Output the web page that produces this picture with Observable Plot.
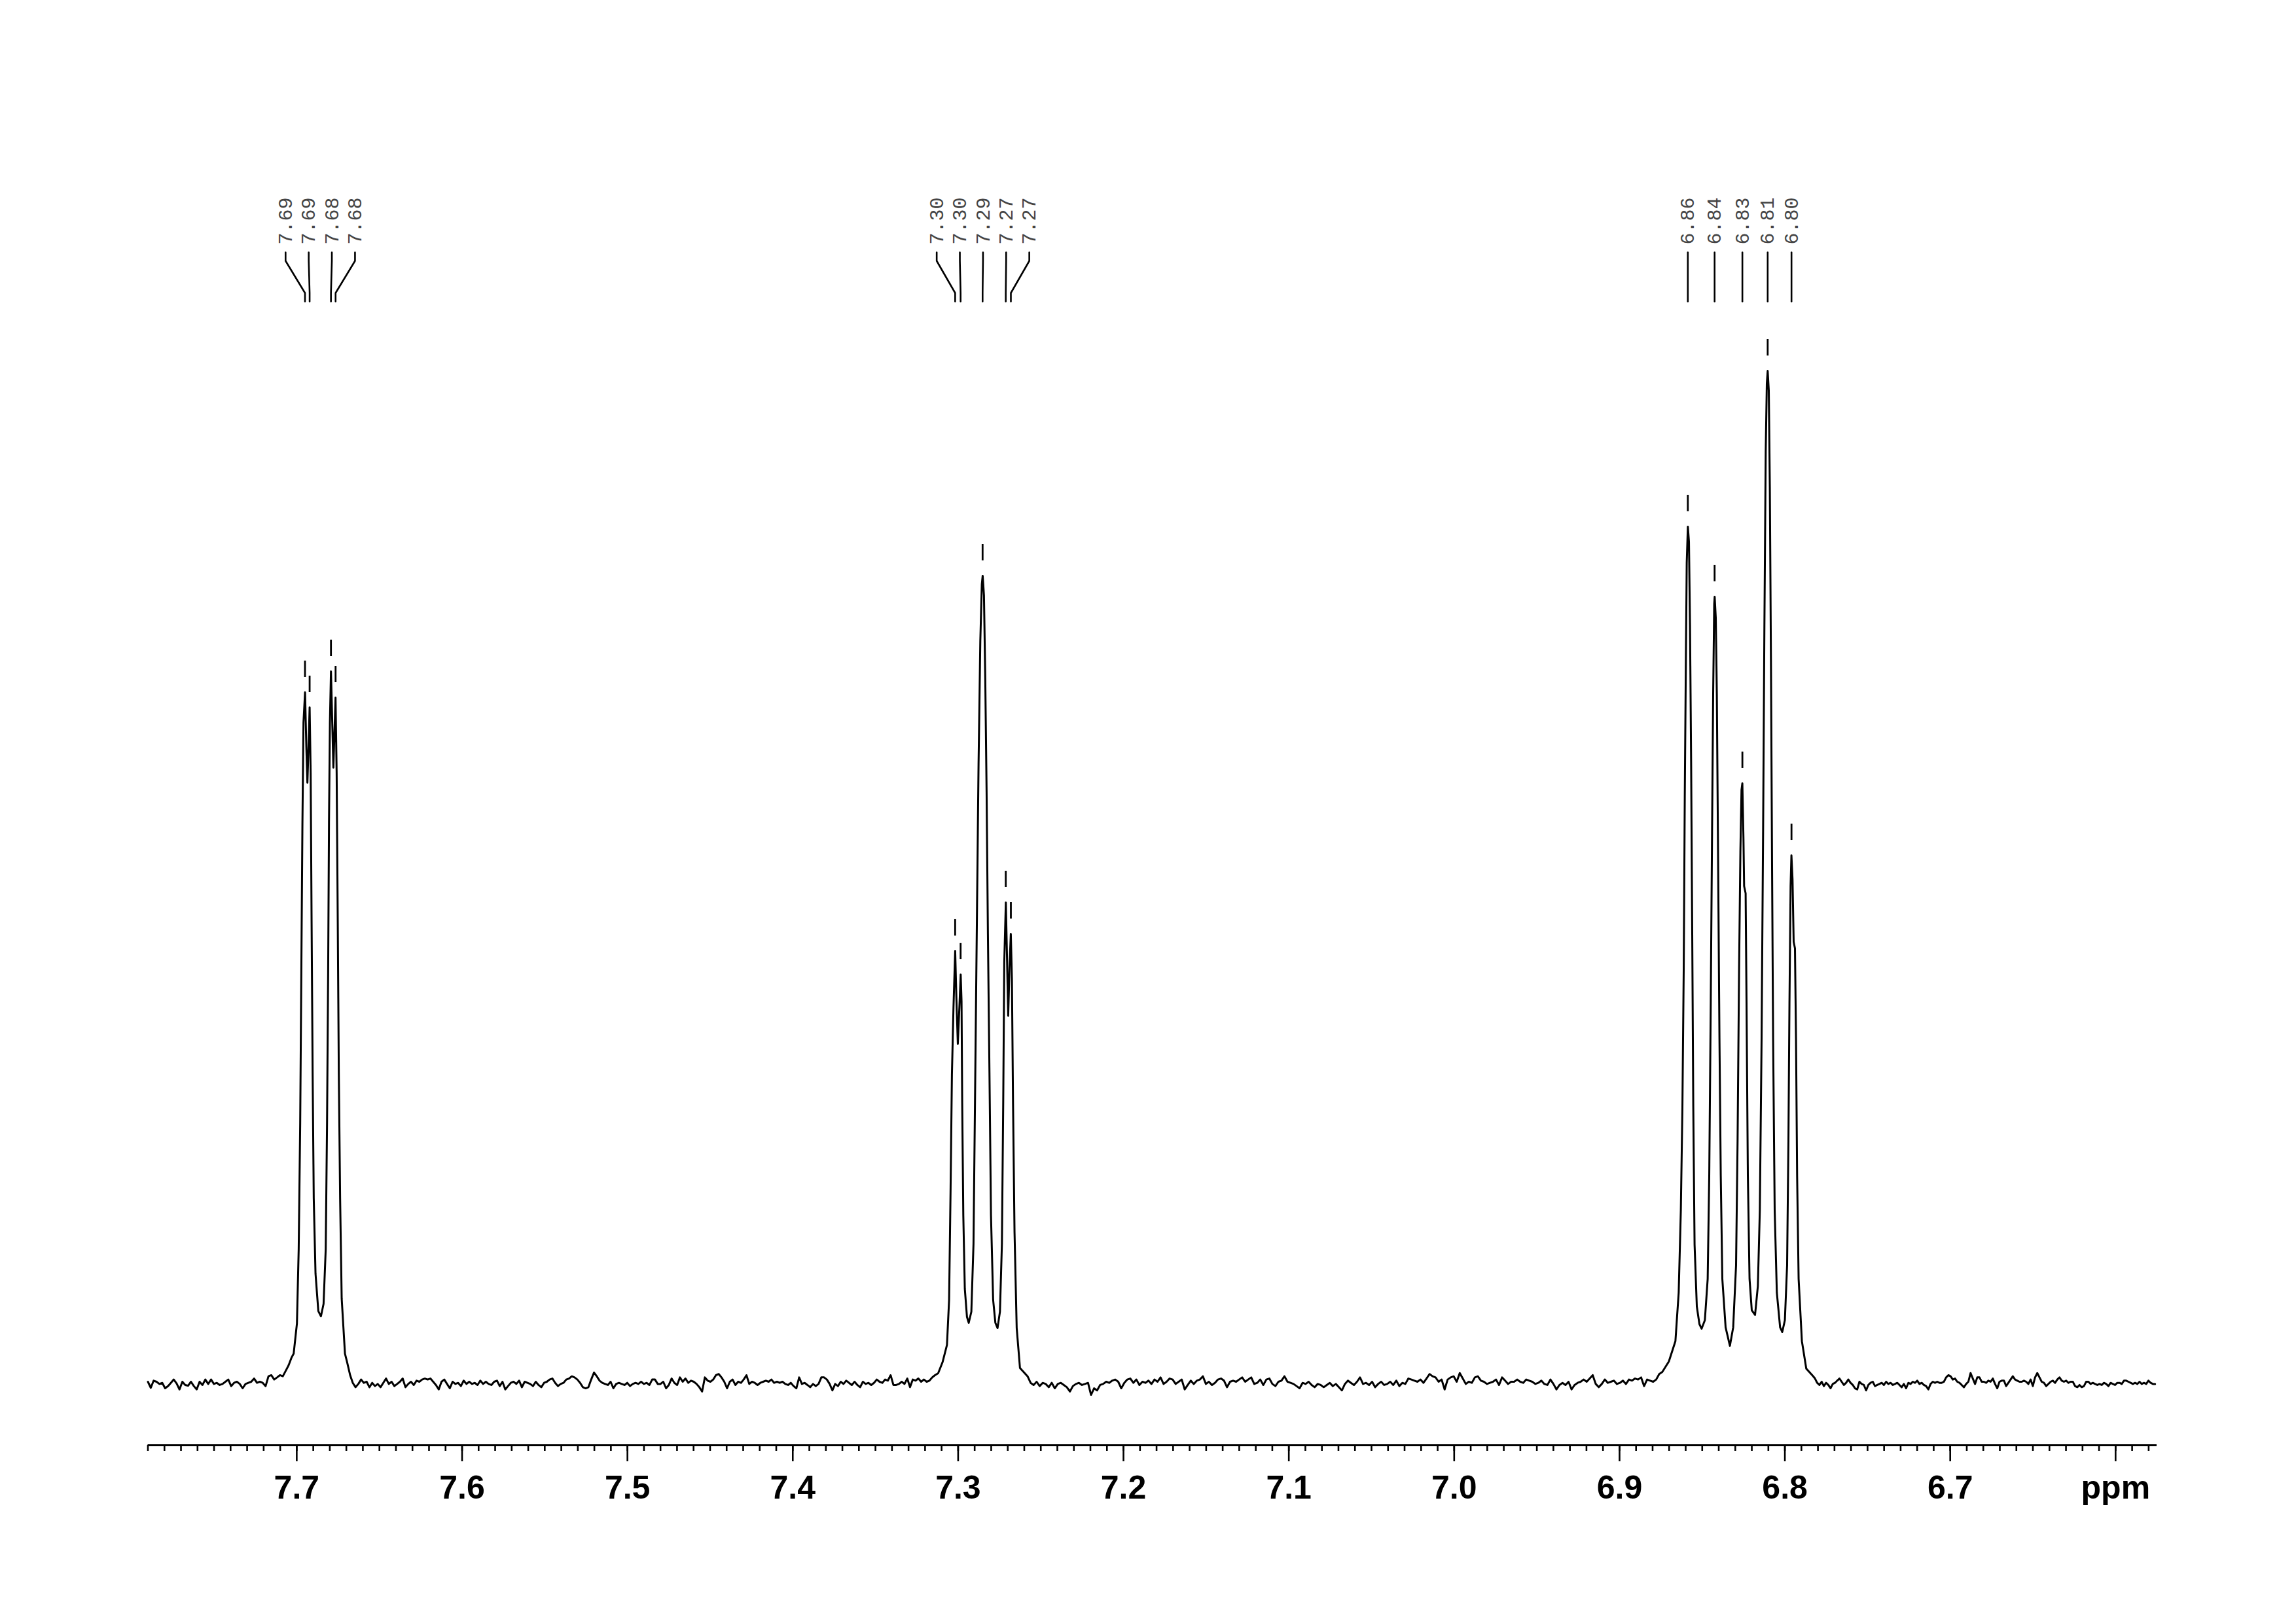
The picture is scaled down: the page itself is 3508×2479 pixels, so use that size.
<!DOCTYPE html>
<html>
<head>
<meta charset="utf-8">
<script src="https://cdn.jsdelivr.net/npm/d3@7"></script>
<script src="https://cdn.jsdelivr.net/npm/@observablehq/plot@0.6"></script>
<style>
  html, body { margin: 0; padding: 0; background: #fff; }
  #chart svg { display: block; }
</style>
</head>
<body>
<div id="chart"></div>
<script>
// ---------------- DATA (chemical shift in ppm, relative intensity) ----------------
const noiseA = { from: 7.7900, to: 7.7032, values: [0,-0.60,0.11,0,-0.22,-0.11,-0.65,-0.43,-0.11,0.22,-0.17,-0.76,0,-0.32,-0.39,0,-0.43,-0.76,0,-0.32,0.22,-0.22,0.22,-0.22,-0.11,-0.32,-0.22,0,0.22,-0.43,-0.11,0,-0.22,-0.65,-0.22,-0.11,0,0.32,-0.11,0,-0.11,-0.43,0.54,0.65,0.22,0.43,0.65,0.54,1.08,1.62,2.37] };
const noiseB = { from: 7.6661, to: 7.3140, values: [-0.11,-0.54,-0.22,0.22,-0.11,0,-0.54,-0.11,-0.43,-0.22,-0.54,-0.11,0.32,-0.22,0,-0.43,-0.22,0,0.32,-0.54,-0.22,0,-0.32,0.11,0,0.22,0.32,0.22,0.32,0,-0.32,-0.76,0,0.22,-0.22,-0.65,0,-0.22,-0.11,-0.43,0.11,-0.22,0,-0.22,-0.11,-0.32,0.11,-0.22,0,-0.22,-0.32,0,0.11,-0.43,0,-0.76,-0.43,-0.11,0,-0.22,0.11,-0.54,0,-0.11,-0.22,-0.43,0,-0.32,-0.54,-0.11,0,0.22,0.32,-0.11,-0.43,-0.22,-0.11,0.22,0.32,0.54,0.43,0.22,-0.11,-0.54,-0.65,-0.54,0.22,0.91,0.54,0.11,-0.11,-0.22,-0.32,0,-0.65,-0.22,-0.11,-0.22,-0.32,-0.11,-0.43,-0.22,-0.11,-0.22,0,-0.22,-0.11,-0.32,0.22,0.22,-0.22,-0.22,0,-0.65,-0.32,0.32,-0.11,-0.32,0.43,0,0.32,-0.11,0.11,0,-0.22,-0.54,-0.97,0.43,0.11,0,0.22,0.65,0.76,0.43,0,-0.65,0,0.22,-0.32,0,-0.11,0.22,0.65,-0.22,0,-0.11,-0.32,-0.11,0,0.11,0,0.22,-0.11,0,-0.11,0,-0.22,-0.32,-0.11,-0.43,-0.65,0.43,-0.22,-0.11,-0.32,-0.54,-0.22,-0.43,-0.22,0.43,0.43,0.22,-0.22,-0.86,-0.22,-0.43,0,-0.22,0.11,-0.11,-0.32,0,-0.32,-0.54,0,-0.22,-0.11,-0.32,-0.11,0.22,0,-0.11,0.22,0.11,0.65,-0.32,-0.32,-0.22,0,-0.22,0.32,-0.54,0.22,0.11,0.32,0,0.22,0,0.11,0.43,0.65] };
const noiseC = { from: 7.2580, to: 6.8760, values: [0.54,-0.11,-0.32,0,-0.43,-0.11,-0.22,-0.54,-0.11,-0.65,-0.22,-0.11,-0.32,-0.54,-0.97,-0.43,-0.22,-0.11,-0.32,-0.22,-0.11,-1.30,-0.65,-0.86,-0.32,-0.22,0,-0.11,0.11,0.22,0,-0.65,-0.11,0.22,0.32,-0.11,0.22,-0.32,0,-0.11,0.11,-0.22,0.22,0,0.43,-0.22,0,0.32,0.22,-0.22,0,0.22,-0.76,-0.32,0.11,-0.22,0.11,0.22,0.54,-0.22,0,-0.32,-0.11,0.22,0.32,0.11,-0.54,0,0.11,0,0.22,0.43,0,0.22,0.43,-0.22,-0.11,0.22,-0.32,0.22,0.32,-0.22,-0.43,0,0.11,0.54,0,-0.11,-0.22,-0.43,-0.65,-0.11,-0.22,0,-0.32,-0.54,-0.22,-0.32,-0.54,-0.32,-0.11,-0.43,-0.22,-0.54,-0.86,-0.22,0.11,-0.11,-0.32,0,0.43,-0.22,-0.11,-0.32,0,-0.54,-0.22,0,-0.32,-0.22,0,-0.32,0.11,-0.43,-0.11,-0.22,0.32,0.22,0.11,0,0.22,-0.11,0.32,0.76,0.54,0.43,0,0.22,-0.76,0.22,0.43,0.54,0,0.86,0.32,-0.22,0,-0.11,0.43,0.54,0.11,0,-0.22,-0.11,0,0.22,-0.32,0.43,0.11,-0.22,0,0,0.22,0,-0.11,0.22,0.11,0,-0.22,-0.11,0.11,-0.22,-0.32,0.22,-0.22,-0.76,-0.32,-0.11,-0.32,0,-0.76,-0.32,-0.11,0,0.22,0,0.32,0.65,-0.22,-0.54,-0.22,0.22,-0.11,0,0.11,-0.22,-0.11,0.11,-0.22,0.22,0.11,0.32,0.22,0.43,-0.43,0.22,0.11,0,0.22,0.76] };
const noiseD = { from: 6.7818, to: 6.5761, values: [0.32,-0.11,-0.32,0,-0.43,-0.11,-0.32,-0.65,-0.22,-0.11,0.11,0.32,0,-0.32,-0.11,0.22,-0.11,-0.32,-0.65,-0.76,0,-0.22,-0.32,-0.86,-0.32,-0.11,0,-0.43,-0.32,-0.22,-0.11,-0.32,0,-0.22,-0.11,-0.32,-0.22,-0.11,-0.32,-0.54,-0.22,-0.65,-0.11,-0.22,0,-0.11,0.11,-0.22,-0.11,-0.32,-0.43,-0.76,-0.22,0,-0.11,0,-0.11,-0.11,0,0.43,0.65,0.54,0.22,0.32,0,-0.11,-0.32,-0.54,-0.22,0,0.86,0.32,-0.22,0.43,0.43,0,0,-0.11,0.11,0,0.32,-0.22,-0.65,0,0.11,0.11,-0.43,-0.11,0.22,0.54,0.22,0.11,0,0,0.11,0,-0.22,0.22,-0.43,0.43,0.86,0.43,0,-0.11,-0.43,-0.22,0,0.11,-0.11,0.22,0.43,0.11,0,0.11,-0.11,0,0,-0.43,-0.54,-0.32,-0.54,-0.43,0,0,-0.22,-0.11,-0.22,-0.32,-0.22,-0.32,-0.11,-0.22,-0.43,-0.11,-0.22,-0.32,-0.11,-0.11,-0.22,0.11,0.11,0,-0.11,-0.22,-0.11,-0.22,0,-0.22,-0.11,-0.22,0.11,-0.11,-0.22,-0.22] };

// Multiplet traces [shift ppm, intensity]
const multiplet769 = [[7.70185,2.78],[7.69988,5.76],[7.69881,13.15],[7.69790,25.58],[7.69723,40.41],[7.69655,55.31],[7.69592,65.22],[7.69497,68.20],[7.69418,62.76],[7.69355,59.26],[7.69287,62.76],[7.69220,66.71],[7.69157,60.23],[7.69101,45.40],[7.69038,30.51],[7.68971,18.13],[7.68864,10.69],[7.68694,6.99],[7.68535,6.48],[7.68377,7.71],[7.68246,13.15],[7.68167,25.58],[7.68100,40.41],[7.68049,55.31],[7.67993,65.22],[7.67930,70.27],[7.67851,65.22],[7.67784,60.75],[7.67716,64.25],[7.67653,67.68],[7.67586,60.23],[7.67518,45.40],[7.67455,30.51],[7.67376,18.13],[7.67281,8.23],[7.67083,2.78],[7.66953,1.94],[7.66770,0.65]];
const multiplet729 = [[7.31207,0.84],[7.30941,1.94],[7.30676,3.63],[7.30546,8.10],[7.30455,19.24],[7.30376,30.38],[7.30281,37.05],[7.30178,42.62],[7.30110,38.21],[7.30019,33.42],[7.29924,37.05],[7.29845,40.28],[7.29794,37.63],[7.29754,27.59],[7.29687,16.45],[7.29596,9.20],[7.29465,6.41],[7.29358,5.83],[7.29200,6.93],[7.29070,13.67],[7.28963,30.38],[7.28856,47.09],[7.28765,61.08],[7.28658,73.32],[7.28567,78.89],[7.28516,79.73],[7.28437,77.78],[7.28358,69.43],[7.28278,58.29],[7.28199,44.30],[7.28104,30.38],[7.28013,16.45],[7.27883,8.10],[7.27748,5.83],[7.27617,5.31],[7.27471,6.93],[7.27352,13.67],[7.27273,27.59],[7.27210,41.52],[7.27115,47.41],[7.27052,42.62],[7.26972,36.21],[7.26893,41.00],[7.26814,44.30],[7.26747,39.83],[7.26680,27.59],[7.26589,14.77],[7.26458,5.31],[7.26260,1.36]];
const multiplet683 = [[6.87412,0.97],[6.87016,2.01],[6.86620,4.02],[6.86422,8.81],[6.86292,16.97],[6.86197,27.20],[6.86118,40.80],[6.86054,57.84],[6.85987,71.50],[6.85936,81.02],[6.85868,84.59],[6.85801,83.10],[6.85738,74.94],[6.85670,61.27],[6.85603,44.24],[6.85540,27.20],[6.85461,13.54],[6.85326,7.45],[6.85168,5.70],[6.85037,5.25],[6.84839,6.09],[6.84669,10.17],[6.84574,20.40],[6.84483,37.44],[6.84404,54.47],[6.84337,68.07],[6.84274,76.94],[6.84246,77.66],[6.84179,75.58],[6.84115,68.07],[6.84036,51.04],[6.83957,34.00],[6.83878,20.40],[6.83783,10.17],[6.83585,5.38],[6.83324,3.56],[6.83126,5.38],[6.82952,11.53],[6.82861,23.77],[6.82770,40.80],[6.82691,52.40],[6.82623,58.55],[6.82572,59.20],[6.82505,53.76],[6.82465,49.03],[6.82374,48.32],[6.82319,37.44],[6.82239,20.40],[6.82137,10.17],[6.82002,7.06],[6.81804,6.61],[6.81634,9.46],[6.81515,16.97],[6.81408,34.00],[6.81317,54.47],[6.81238,74.87],[6.81159,91.97],[6.81092,98.77],[6.81040,100.00],[6.80973,98.06],[6.80910,88.54],[6.80843,71.50],[6.80775,51.04],[6.80712,34.00],[6.80617,16.97],[6.80486,8.81],[6.80289,5.38],[6.80158,4.92],[6.80000,6.09],[6.79865,11.53],[6.79786,23.77],[6.79723,37.44],[6.79655,49.03],[6.79604,52.07],[6.79537,49.68],[6.79469,43.52],[6.79390,42.88],[6.79327,34.00],[6.79260,20.40],[6.79169,10.17],[6.78971,4.02],[6.78706,1.30],[6.78310,0.58]];

// Picked peaks
const peakShifts  = [7.6950, 7.6922, 7.6793, 7.6765, 7.3018, 7.2985, 7.2852, 7.2712, 7.2681, 6.8587, 6.8425, 6.8257, 6.8104, 6.7960];
const peakHeights = [68.20, 66.71, 70.27, 67.68, 42.62, 40.28, 79.73, 47.41, 44.30, 84.59, 77.66, 59.20, 100.00, 52.07];
const peakLabels  = ["7.69","7.69","7.68","7.68","7.30","7.30","7.29","7.27","7.27","6.86","6.84","6.83","6.81","6.80"];

// Axis ticks
const majorTicks  = [7.7, 7.6, 7.5, 7.4, 7.3, 7.2, 7.1, 7.0, 6.9, 6.8, 6.7, 6.6];
const majorLabels = ["7.7","7.6","7.5","7.4","7.3","7.2","7.1","7.0","6.9","6.8","6.7","ppm"];
const xDomain = [7.79, 6.575];

// ---------------- BUILD ----------------
const W = 3508, H = 2479;
const frameBottom = 2207;           // pixel row of the axis line
const baselinePx = 2110;            // pixel row of zero intensity
const pxPerUnit = 15.44;            // pixels per intensity unit
const u = px => (baselinePx - px) / pxPerUnit;   // pixel row -> intensity units
const yDomain = [u(frameBottom), u(0)];

const segment = s => s.values.map((v, i) => ({shift: s.from + (s.to - s.from) * i / (s.values.length - 1), intensity: v}));
const pairs = arr => arr.map(([shift, intensity]) => ({shift, intensity}));
const spectrum = [
  ...segment(noiseA), ...pairs(multiplet769), ...segment(noiseB), ...pairs(multiplet729),
  ...segment(noiseC), ...pairs(multiplet683), ...segment(noiseD)
].sort((a, b) => b.shift - a.shift);

// spread labels so that neighbouring labels keep a minimum distance
const minSep = 0.0140;
function spread(shifts) {
  let groups = shifts.map((s, i) => ({idx: [i], center: s}));
  let changed = true;
  while (changed) {
    changed = false;
    for (let g = 0; g < groups.length - 1; g++) {
      const a = groups[g], b = groups[g + 1];
      const aLast = a.center - (a.idx.length - 1) / 2 * minSep;
      const bFirst = b.center + (b.idx.length - 1) / 2 * minSep;
      if (aLast - bFirst < minSep - 1e-9) {
        const idx = a.idx.concat(b.idx);
        groups.splice(g, 2, {idx, center: d3.mean(idx, i => shifts[i])});
        changed = true;
        break;
      }
    }
  }
  const pos = [];
  for (const g of groups) g.idx.forEach((i, k) => pos[i] = g.center + ((g.idx.length - 1) / 2 - k) * minSep);
  return pos;
}
const labelX = spread(peakShifts);
const peaks = peakShifts.map((s, i) => ({shift: s, height: peakHeights[i], label: peakLabels[i], lx: labelX[i]}));
const connectors = peaks.flatMap((p, i) => [
  {id: i, x: p.lx, y: u(385)},
  {id: i, x: p.lx, y: u(398)},
  {id: i, x: p.shift, y: u(447)},
  {id: i, x: p.shift, y: u(460)}
]);

const minorTicks = d3.range(0, 122).map(i => +(7.79 - i * 0.01).toFixed(2));

const chart = Plot.plot({
  width: W, height: H,
  marginLeft: 225.5, marginRight: 213, marginTop: 0, marginBottom: H - frameBottom,
  x: {domain: xDomain},
  y: {domain: yDomain, axis: null},
  style: {background: "white", color: "black", fontFamily: "'Liberation Sans', Arial, sans-serif"},
  marks: [
    Plot.ruleY([yDomain[0]], {stroke: "black", strokeWidth: 3}),
    Plot.axisX(minorTicks, {tickSize: 9, tickFormat: () => "", strokeWidth: 2.6, label: null}),
    Plot.axisX(majorTicks, {
      tickSize: 25, tickPadding: 21, strokeWidth: 2.6, label: null,
      tickFormat: d => majorLabels[majorTicks.findIndex(t => Math.abs(t - d) < 1e-9)],
      fontSize: 50, fontWeight: "bold", fontFamily: "'Liberation Sans', Arial, sans-serif", fill: "black"
    }),
    Plot.line(spectrum, {x: "shift", y: "intensity", stroke: "black", strokeWidth: 3, curve: "linear"}),
    Plot.ruleX(peaks, {x: "shift", y1: d => d.height + 23 / pxPerUnit, y2: d => d.height + 48 / pxPerUnit, stroke: "black", strokeWidth: 2.8}),
    Plot.line(connectors, {x: "x", y: "y", z: "id", stroke: "black", strokeWidth: 2.6}),
    Plot.text(peaks, {
      x: "lx", y: () => u(373), text: "label", rotate: -90, textAnchor: "start", lineAnchor: "middle",
      fontFamily: "'Liberation Mono', 'DejaVu Sans Mono', monospace", fontSize: 30, fill: "#444"
    })
  ]
});
document.getElementById("chart").appendChild(chart);
</script>
</body>
</html>
